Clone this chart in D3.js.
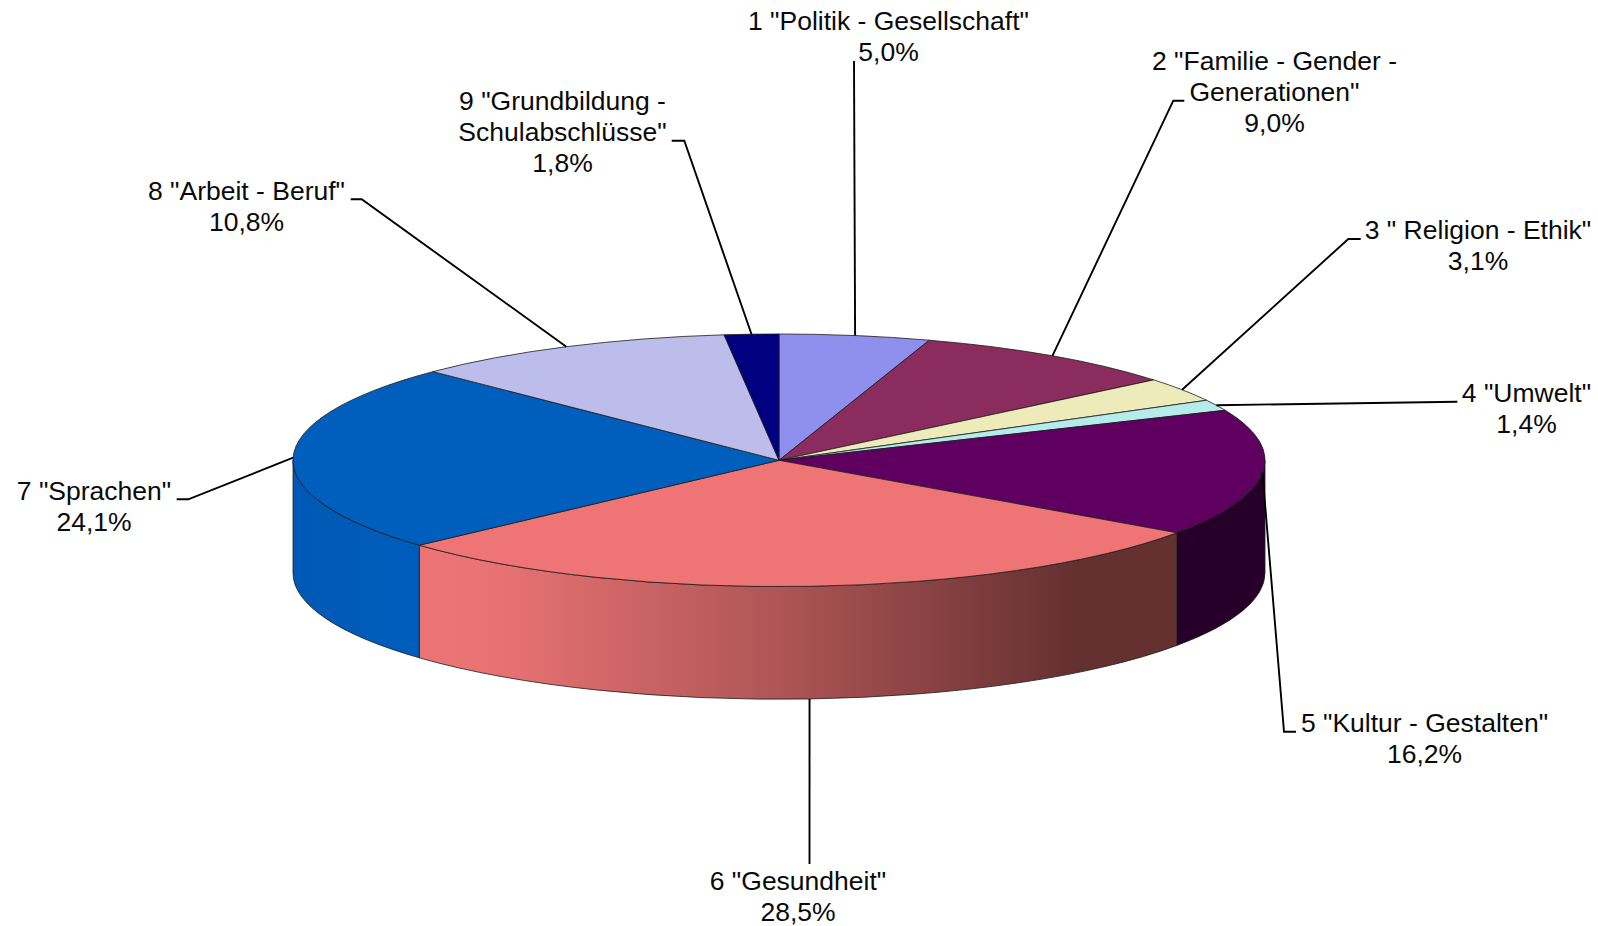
<!DOCTYPE html>
<html>
<head>
<meta charset="utf-8">
<style>
  html, body { margin: 0; padding: 0; background: #fff; }
  svg { display: block; }
  text { font-family: "Liberation Sans", Arial, sans-serif; font-size: 26.5px; fill: #0a0a0a; }
</style>
<script src="https://d3js.org/d3.v7.min.js"></script>
</head>
<body>
<script>
// chart values
var categories = ['1 "Politik - Gesellschaft"', '2 "Familie - Gender - Generationen"', '3 " Religion - Ethik"',
  '4 "Umwelt"', '5 "Kultur - Gestalten"', '6 "Gesundheit"', '7 "Sprachen"', '8 "Arbeit - Beruf"',
  '9 "Grundbildung - Schulabschlüsse"'];
var values = [5.0, 9.0, 3.1, 1.4, 16.2, 28.5, 24.1, 10.8, 1.8];
var topColors = ["#8f8fee", "#8b2c5e", "#eeebbb", "#b5ebeb", "#5f0060", "#ee7475", "#005ebd", "#bdbdec", "#000080"];

// label text is broken the same way as in the original
var labelLines = [
  ['1 "Politik - Gesellschaft"'],
  ['2 "Familie - Gender -', 'Generationen"'],
  ['3 " Religion - Ethik"'],
  ['4 "Umwelt"'],
  ['5 "Kultur - Gestalten"'],
  ['6 "Gesundheit"'],
  ['7 "Sprachen"'],
  ['8 "Arbeit - Beruf"'],
  ['9 "Grundbildung -', 'Schulabschlüsse"']
];

// label layout: centre x, first baseline, and the elbow of the leader line
var labelX = [888.5, 1274.5, 1478, 1526.5, 1424.5, 798, 94, 246.5, 562.5];
var labelY = [30, 70, 239, 401.7, 731.7, 890, 500, 200, 110];
var elbows = [
  [[854, 61]],
  [[1184.3, 100.7], [1173.3, 100.7]],
  [[1360.7, 239], [1348.3, 239]],
  [[1457.3, 401.7]],
  [[1296, 731.7], [1284, 731.7]],
  [[809.5, 864]],
  [[176.7, 499.3], [188.3, 499.3]],
  [[350.7, 199.3], [361.7, 199.3]],
  [[671.7, 140.7], [684.3, 140.7]]
];

var width = 1598, height = 926;
var cx = 779, cy = 460.3, rx = 486, ry = 126.3, depth = 112.6;
var lineStep = 30.8;

var svg = d3.select("body").append("svg")
  .attr("width", width)
  .attr("height", height);

var pie = d3.pie().sort(null).value(function(d) { return d; });
var slices = pie(values);

function px(a) { return cx + rx * Math.sin(a); }
function py(a) { return cy - ry * Math.cos(a); }

// gradients for the front wall
var defs = svg.append("defs");

function addGrad(id, x1, x2, stops) {
  var g = defs.append("linearGradient")
    .attr("id", id)
    .attr("gradientUnits", "userSpaceOnUse")
    .attr("x1", x1).attr("x2", x2).attr("y1", 0).attr("y2", 0);
  stops.forEach(function(s) {
    g.append("stop").attr("offset", s[0]).attr("stop-color", s[1]);
  });
  return "url(#" + id + ")";
}

var sideFill = {};
sideFill[4] = "#260028";
sideFill[5] = addGrad("g5", 420, 1075, [[0, "#ed7475"], [0.12, "#e87273"], [0.55, "#ae5555"], [1, "#653030"]]);
sideFill[6] = addGrad("g6", 293, 420, [[0, "#0059b4"], [1, "#005dbc"]]);

// front wall, only the part between 90 and 270 degrees shows
slices.forEach(function(d, i) {
  var a0 = Math.max(d.startAngle, Math.PI / 2);
  var a1 = Math.min(d.endAngle, Math.PI * 1.5);
  if (a1 <= a0) return;
  var path = "M" + px(a0) + "," + py(a0) +
    "A" + rx + "," + ry + " 0 0 1 " + px(a1) + "," + py(a1) +
    "L" + px(a1) + "," + (py(a1) + depth) +
    "A" + rx + "," + ry + " 0 0 0 " + px(a0) + "," + (py(a0) + depth) + "Z";
  svg.append("path")
    .attr("d", path)
    .attr("fill", sideFill[i])
    .attr("stroke", "#1c1c1c")
    .attr("stroke-width", 0.8)
    .attr("stroke-linejoin", "round");
});

// top face
var arc = d3.arc().innerRadius(0).outerRadius(rx);

svg.append("g")
  .attr("transform", "translate(" + cx + "," + cy + ") scale(1," + (ry / rx) + ")")
  .selectAll("path")
  .data(slices)
  .enter().append("path")
    .attr("d", arc)
    .attr("fill", function(d, i) { return topColors[i]; })
    .attr("stroke", "#1c1c1c")
    .attr("stroke-width", 0.8)
    .attr("stroke-linejoin", "round")
    .attr("vector-effect", "non-scaling-stroke");

// leader lines run from the middle of each slice's rim to the label
var leader = d3.line();
slices.forEach(function(d, i) {
  var mid = (d.startAngle + d.endAngle) / 2;
  var yRim = py(mid) + (categories[i].charAt(0) === "6" ? depth : 0);
  var pts = elbows[i].concat([[px(mid), yRim]]);
  svg.append("path")
    .attr("d", leader(pts))
    .attr("fill", "none")
    .attr("stroke", "#000")
    .attr("stroke-width", 1.9);
});

// labels
labelLines.forEach(function(lines, i) {
  var all = lines.concat([values[i].toFixed(1).replace(".", ",") + "%"]);
  all.forEach(function(t, j) {
    svg.append("text")
      .attr("x", labelX[i])
      .attr("y", labelY[i] + j * lineStep)
      .attr("text-anchor", "middle")
      .text(t);
  });
});
</script>
</body>
</html>
